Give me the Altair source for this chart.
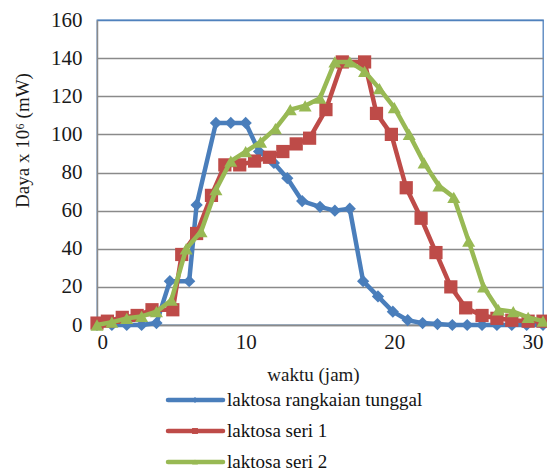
import altair as alt
import pandas as pd

series_names = ["laktosa rangkaian tunggal", "laktosa seri 1", "laktosa seri 2"]
colors = ["#4A7EBB", "#BE4B48", "#98B954"]
shapes = ["diamond", "square", "triangle-up"]
marker_sizes = [150, 175, 170]

blue_x = [0, 1, 2, 3, 4, 4.9, 6.2, 6.7, 8, 9, 10, 10.9, 11.9, 12.8, 13.8, 15, 16, 17,
          17.9, 18.9, 19.9, 20.9, 21.9, 22.9, 23.9, 24.9, 25.9, 26.9, 27.9, 28.9, 30]
blue_y = [0, 0, 0, 0, 1, 23, 23, 63, 106, 106, 106, 91, 85, 77, 65, 62, 60, 61,
          23, 15, 7, 2.5, 1, 0.5, 0, 0, 0, 0, 0, 0, 0]

red_x = [0, 0.7, 1.7, 2.7, 3.7, 5.1, 5.7, 6.7, 7.7, 8.6, 9.6, 10.6, 11.6, 12.5, 13.4, 14.3,
         15.4, 16.5, 18, 18.8, 19.8, 20.8, 21.8, 22.8, 23.8, 24.8, 25.9, 26.9, 27.9, 29, 30]
red_y = [1, 2, 4, 5, 8, 8, 37, 48, 68, 84, 84, 86, 88, 91, 95, 98,
         113, 138, 138, 111, 100, 72, 56, 38, 20, 9, 5, 3.5, 2.5, 2, 2]

green_x = list(range(0, 31))
green_y = [0, 1.5, 3.5, 4.5, 7, 13, 40, 49, 71, 86, 91, 96, 103, 113, 115, 119,
           138, 138, 133, 124, 114, 100, 85, 73, 67, 44, 20, 8, 7, 4, 2]

y_ticks = [0, 20, 40, 60, 80, 100, 120, 140, 160]
x_ticks = [0, 10, 20, 30]

rows = []
for name, xs, ys in zip(series_names, [blue_x, red_x, green_x], [blue_y, red_y, green_y]):
    for i, (xv, yv) in enumerate(zip(xs, ys)):
        rows.append({"series": name, "x": xv, "y": yv, "idx": i})
df = pd.DataFrame(rows)
legend_df = pd.DataFrame({"series": series_names})

FONT = "'Liberation Serif', 'Times New Roman', 'DejaVu Serif', serif"
BORDER = "#4F81BD"
color_scale = alt.Scale(domain=series_names, range=colors)
shape_scale = alt.Scale(domain=series_names, range=shapes)

x_enc = alt.X("x:Q", scale=alt.Scale(domain=[0, 30], nice=False),
              axis=alt.Axis(values=x_ticks, title="waktu (jam)", grid=False, ticks=False,
                            labelFont=FONT, titleFont=FONT,
                            labelPadding=6, titleY=49, titleBaseline="middle", titleX=216))
y_enc = alt.Y("y:Q", scale=alt.Scale(domain=[0, 160], nice=False),
              axis=alt.Axis(values=y_ticks, title="Daya x 10⁶ (mW)", grid=True, ticks=False,
                            labelFont=FONT, titleFont=FONT,
                            gridColor={"condition": {"test": "datum.value == 160", "value": BORDER},
                                       "value": "#8a8a8a"},
                            labelPadding=15, titleX=-75, titleY=120, titleAngle=270,
                            titleBaseline="middle", titleAlign="center"))

layers = []
for name, msize in zip(series_names, marker_sizes):
    base = alt.Chart(df).transform_filter(alt.datum.series == name)
    line = base.mark_line(strokeWidth=4.5, strokeJoin="round", strokeCap="round").encode(
        x=x_enc, y=y_enc,
        color=alt.Color("series:N", scale=color_scale, legend=None),
        order="idx:Q")
    pts = base.mark_point(filled=True, opacity=1, strokeWidth=1).encode(
        x=x_enc, y=y_enc,
        color=alt.Color("series:N", scale=color_scale, legend=None),
        shape=alt.Shape("series:N", scale=shape_scale, legend=None),
        size=alt.value(msize))
    layers += [line, pts]
main = alt.layer(*layers)

leg_y = alt.Y("series:N", scale=alt.Scale(domain=series_names, range=[380, 442], type="point", padding=0),
              axis=None)
leg_line = alt.Chart(legend_df).mark_rule(strokeWidth=4.5, strokeCap="round").encode(
    x=alt.value(71), x2=alt.value(126), y=leg_y,
    color=alt.Color("series:N", scale=color_scale, legend=None))
leg_pt = alt.Chart(legend_df).mark_point(filled=True, opacity=1).encode(
    x=alt.value(98), y=leg_y,
    color=alt.Color("series:N", scale=color_scale, legend=None),
    shape=alt.Shape("series:N", scale=shape_scale, legend=None),
    size=alt.value(35))
leg_text = alt.Chart(legend_df).mark_text(align="left", baseline="middle", font=FONT,
                                          fontSize=19, color="#111").encode(
    x=alt.value(130), y=leg_y, text="series:N")
legend = alt.layer(leg_line, leg_pt, leg_text)

chart = alt.layer(main, legend).resolve_scale(y="independent").properties(
    width=446, height=305,
    autosize=alt.AutoSizeParams(type="none"),
    padding={"left": 89, "top": 12, "right": 4, "bottom": 147},
    background="white",
).configure_view(
    stroke=BORDER, strokeWidth=1.3
).configure_axis(
    labelFont=FONT, titleFont=FONT, labelFontSize=21, titleFontSize=19,
    labelColor="#1a1a1a", titleColor="#1a1a1a", titleFontWeight="normal",
    domainColor="#8a8a8a", domainWidth=1.5, gridWidth=1.3,
    gridOpacity=1
)

chart.save("out.html", embed_options={"renderer": "svg", "actions": False})
